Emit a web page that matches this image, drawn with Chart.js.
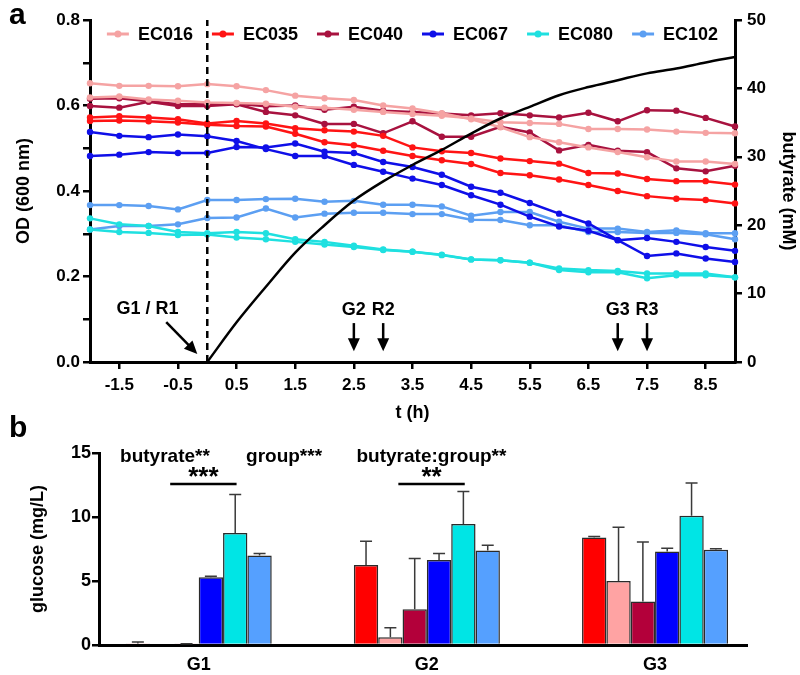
<!DOCTYPE html>
<html><head><meta charset="utf-8">
<script src="https://cdn.jsdelivr.net/npm/chart.js@4.4.0/dist/chart.umd.min.js"></script>
<style>
html,body{margin:0;padding:0;background:#fff;}
#wrap{position:relative;width:800px;height:675px;overflow:hidden;font-family:'Liberation Sans',Arial,sans-serif;}
#ca{position:absolute;left:0;top:0;}
#cb{position:absolute;left:0;top:430px;}
.pl{position:absolute;font-weight:bold;font-size:30px;line-height:30px;color:#000;}
</style></head><body>
<div id="wrap">
<canvas id="ca" width="800" height="430"></canvas>
<canvas id="cb" width="800" height="245"></canvas>
<div class="pl" style="left:9px;top:-1px">a</div>
<div class="pl" style="left:9px;top:412px">b</div>
</div>
<script>
// ---------------- DATA ----------------
const timeH = [-2,-1.5,-1,-0.5,0,0.5,1,1.5,2,2.5,3,3.5,4,4.5,5,5.5,6,6.5,7,7.5,8,8.5,9];
const xTickLabels = [-1.5,-0.5,0.5,1.5,2.5,3.5,4.5,5.5,6.5,7.5,8.5];
const strainNames = ['EC016','EC035','EC040','EC067','EC080','EC102'];

const od_EC016_r1 = [0.652,0.646,0.646,0.645,0.650,0.645,0.636,0.623,0.617,0.613,0.600,0.593,0.582,0.568,0.549,0.526,0.514,0.502,0.491,0.479,0.469,0.469,0.463];
const od_EC016_r2 = [0.619,0.621,0.614,0.611,0.607,0.606,0.604,0.597,0.595,0.590,0.585,0.580,0.576,0.570,0.561,0.559,0.557,0.545,0.545,0.544,0.539,0.536,0.535];
const od_EC035_r1 = [0.572,0.575,0.572,0.568,0.558,0.564,0.558,0.547,0.542,0.539,0.529,0.502,0.493,0.489,0.476,0.470,0.464,0.442,0.441,0.428,0.423,0.423,0.415];
const od_EC035_r2 = [0.564,0.565,0.563,0.560,0.555,0.552,0.551,0.534,0.514,0.507,0.494,0.482,0.472,0.463,0.442,0.437,0.427,0.414,0.400,0.388,0.382,0.379,0.371];
const od_EC040_r1 = [0.616,0.617,0.610,0.603,0.603,0.604,0.598,0.600,0.590,0.597,0.588,0.585,0.581,0.577,0.582,0.577,0.572,0.583,0.563,0.589,0.588,0.571,0.551];
const od_EC040_r2 = [0.599,0.595,0.609,0.599,0.599,0.603,0.585,0.577,0.557,0.557,0.535,0.563,0.527,0.527,0.550,0.537,0.495,0.508,0.494,0.491,0.453,0.446,0.459];
const od_EC067_r1 = [0.538,0.529,0.526,0.532,0.528,0.517,0.498,0.482,0.482,0.461,0.445,0.429,0.414,0.390,0.368,0.340,0.317,0.307,0.285,0.290,0.281,0.269,0.260];
const od_EC067_r2 = [0.482,0.485,0.491,0.489,0.489,0.503,0.502,0.511,0.492,0.489,0.468,0.456,0.438,0.410,0.396,0.372,0.347,0.324,0.285,0.248,0.254,0.242,0.234];
const od_EC080_r1 = [0.336,0.322,0.318,0.304,0.301,0.304,0.301,0.287,0.281,0.272,0.263,0.258,0.251,0.240,0.238,0.232,0.219,0.215,0.213,0.207,0.207,0.207,0.198];
const od_EC080_r2 = [0.310,0.304,0.302,0.297,0.298,0.291,0.287,0.281,0.275,0.269,0.262,0.258,0.250,0.240,0.238,0.232,0.215,0.210,0.210,0.196,0.203,0.203,0.198];
const od_EC102_r1 = [0.367,0.367,0.365,0.357,0.379,0.379,0.381,0.382,0.375,0.377,0.368,0.368,0.364,0.342,0.351,0.351,0.328,0.312,0.312,0.304,0.308,0.301,0.301];
const od_EC102_r2 = [0.310,0.318,0.318,0.322,0.337,0.338,0.359,0.338,0.347,0.349,0.349,0.346,0.346,0.333,0.332,0.320,0.320,0.304,0.304,0.302,0.302,0.299,0.287];
const butyrate_mM = [null,null,null,null,0,5.8,11.0,16.0,20.0,23.6,26.4,28.8,31.0,33.4,35.6,37.3,39.0,40.2,41.2,42.2,42.9,43.8,44.6];
const butyrateAddedAt = 0;
const sampleEvents = ['G2','R2','G3','R3'];
const sampleTimes = [2.5,3,7,7.5];

const glucoseGroups = ['G1','G2','G3'];
const barStrains = ['EC035','EC016','EC040','EC067','EC080','EC102'];
const glucose_EC035 = [0.12, 6.25, 8.4];
const glucose_EC016 = [0, 0.6, 5.0];
const glucose_EC040 = [0.05, 2.8, 3.4];
const glucose_EC067 = [5.3, 6.65, 7.3];
const glucose_EC080 = [8.75, 9.45, 10.1];
const glucose_EC102 = [7.0, 7.38, 7.45];
const glucoseErr_EC035 = [0.12, 1.85, 0.08];
const glucoseErr_EC016 = [0, 0.75, 4.2];
const glucoseErr_EC040 = [0.05, 3.95, 4.65];
const glucoseErr_EC067 = [0.08, 0.5, 0.25];
const glucoseErr_EC080 = [3.0, 2.55, 2.55];
const glucoseErr_EC102 = [0.15, 0.42, 0.07];

// ---------------- STYLE ----------------
const FONT = "'Liberation Sans', Arial, Helvetica, sans-serif";
Chart.defaults.font.family = FONT;
Chart.defaults.font.weight = 'bold';
Chart.defaults.color = '#000';
const LINE_COLORS = {EC016:'#f5a3a3', EC035:'#ff1414', EC040:'#a8123f', EC067:'#0f0fe8', EC080:'#1fe0e0', EC102:'#5c9ff2'};
const BAR_COLORS = {EC016:'#ffa3a3', EC035:'#ff0000', EC040:'#b3003a', EC067:'#0000ff', EC080:'#00e5e5', EC102:'#55a0ff'};

const odSeries = {
  EC016:[od_EC016_r1, od_EC016_r2], EC035:[od_EC035_r1, od_EC035_r2], EC040:[od_EC040_r1, od_EC040_r2],
  EC067:[od_EC067_r1, od_EC067_r2], EC080:[od_EC080_r1, od_EC080_r2], EC102:[od_EC102_r1, od_EC102_r2]
};
const glucoseVals = {EC035:glucose_EC035, EC016:glucose_EC016, EC040:glucose_EC040, EC067:glucose_EC067, EC080:glucose_EC080, EC102:glucose_EC102};
const glucoseErrs = {EC035:glucoseErr_EC035, EC016:glucoseErr_EC016, EC040:glucoseErr_EC040, EC067:glucoseErr_EC067, EC080:glucoseErr_EC080, EC102:glucoseErr_EC102};

function arrow(ctx, x1, y1, x2, y2, head, hw) {
  const a = Math.atan2(y2 - y1, x2 - x1);
  ctx.beginPath();
  ctx.moveTo(x1, y1);
  ctx.lineTo(x2 - head * 0.7 * Math.cos(a), y2 - head * 0.7 * Math.sin(a));
  ctx.stroke();
  ctx.beginPath();
  ctx.moveTo(x2, y2);
  ctx.lineTo(x2 - head * Math.cos(a) + hw * Math.sin(a), y2 - head * Math.sin(a) - hw * Math.cos(a));
  ctx.lineTo(x2 - head * Math.cos(a) - hw * Math.sin(a), y2 - head * Math.sin(a) + hw * Math.cos(a));
  ctx.closePath();
  ctx.fill();
}

// ---------------- PANEL A ----------------
const dsA = [];
dsA.push({
  label: 'butyrate', yAxisID: 'y2',
  data: timeH.map((t, i) => ({x: t, y: butyrate_mM[i]})),
  borderColor: '#000', borderWidth: 2.5, pointRadius: 0, cubicInterpolationMode: 'monotone', order: 0
});
dsA.push({
  label: 'addition', yAxisID: 'y',
  data: [{x: butyrateAddedAt, y: 0}, {x: butyrateAddedAt, y: 0.8}],
  borderColor: '#000', borderWidth: 2.5, borderDash: [7, 5], pointRadius: 0, order: 1
});
strainNames.forEach((s, si) => {
  odSeries[s].forEach((arr, r) => {
    dsA.push({
      label: s, yAxisID: 'y',
      data: timeH.map((t, i) => ({x: t, y: arr[i]})),
      borderColor: LINE_COLORS[s], backgroundColor: LINE_COLORS[s],
      borderWidth: 2.5, pointRadius: 3.2, pointBorderWidth: 0,
      pointBackgroundColor: LINE_COLORS[s], tension: 0, clip: false,
      order: 2 + si * 2 + r
    });
  });
});

const panelAPlugin = {
  id: 'panelA',
  afterDatasetsDraw(chart) {
    const {ctx, chartArea: ca} = chart;
    const xs = chart.scales.x, ys = chart.scales.y;
    ctx.save();
    // legend
    ctx.font = 'bold 18px ' + FONT;
    const lineW = 22, gap = 9, spacing = 19;
    const widths = strainNames.map(n => lineW + gap + ctx.measureText(n).width);
    const total = widths.reduce((a, b) => a + b, 0) + spacing * (strainNames.length - 1);
    let lx = (ca.left + ca.right) / 2 - total / 2;
    const ly = ca.top + 14;
    strainNames.forEach((n, i) => {
      ctx.strokeStyle = LINE_COLORS[n]; ctx.fillStyle = LINE_COLORS[n]; ctx.lineWidth = 3;
      ctx.beginPath(); ctx.moveTo(lx, ly); ctx.lineTo(lx + lineW, ly); ctx.stroke();
      ctx.beginPath(); ctx.arc(lx + lineW / 2, ly, 3.5, 0, Math.PI * 2); ctx.fill();
      ctx.fillStyle = '#000'; ctx.textAlign = 'left'; ctx.textBaseline = 'middle';
      ctx.fillText(n, lx + lineW + gap, ly + 1);
      lx += widths[i] + spacing;
    });
    // arrows and labels
    ctx.strokeStyle = '#000'; ctx.fillStyle = '#000'; ctx.lineWidth = 2.5;
    ctx.textAlign = 'center'; ctx.textBaseline = 'middle';
    ctx.font = 'bold 18px ' + FONT;
    ctx.fillText('G1 / R1', xs.getPixelForValue(-1.02), ys.getPixelForValue(0.124));
    arrow(ctx, xs.getPixelForValue(-0.70), ys.getPixelForValue(0.093),
               xs.getPixelForValue(-0.17), ys.getPixelForValue(0.019), 13, 6);
    sampleEvents.forEach((ev, i) => {
      const px = xs.getPixelForValue(sampleTimes[i]);
      ctx.fillText(ev, px, ys.getPixelForValue(0.122));
      arrow(ctx, px, ys.getPixelForValue(0.091), px, ys.getPixelForValue(0.025), 13, 6);
    });
    ctx.restore();
  }
};

new Chart(document.getElementById('ca'), {
  type: 'line',
  data: {datasets: dsA},
  options: {
    responsive: false, animation: false,
    layout: {padding: {top: 20, left: 0, right: 0, bottom: 0}},
    plugins: {legend: {display: false}, tooltip: {enabled: false}},
    scales: {
      x: {
        type: 'linear', min: -2, max: 9,
        afterBuildTicks: s => { s.ticks = xTickLabels.map(v => ({value: v})); },
        afterFit: s => { s.height = 68; },
        ticks: {font: {size: 17}, padding: 6, autoSkip: false, maxRotation: 0, callback: v => String(v)},
        grid: {drawOnChartArea: false, drawTicks: true, tickLength: 7, color: '#000', lineWidth: 2.5},
        border: {color: '#000', width: 3},
        title: {display: true, text: 't (h)', font: {size: 18}, padding: {top: 4, bottom: 6}}
      },
      y: {
        position: 'left', min: 0, max: 0.8,
        afterFit: s => { s.width = 90; },
        ticks: {stepSize: 0.1, autoSkip: false, font: {size: 17}, padding: 3,
          callback: v => { const k = Math.round(v * 10); return k % 2 === 0 ? (k / 10).toFixed(1) : ''; }},
        grid: {drawOnChartArea: false, drawTicks: true, tickLength: 7, color: '#000', lineWidth: 2.5},
        border: {color: '#000', width: 3},
        title: {display: true, text: 'OD (600 nm)', font: {size: 18}, padding: {top: 13, bottom: 0}}
      },
      y2: {
        position: 'right', min: 0, max: 50,
        afterFit: s => { s.width = 65; },
        ticks: {stepSize: 10, autoSkip: false, font: {size: 17}, padding: 5},
        grid: {drawOnChartArea: false, drawTicks: true, tickLength: 7, color: '#000', lineWidth: 2.5},
        border: {color: '#000', width: 3},
        title: {display: true, text: 'butyrate (mM)', font: {size: 18}, padding: {top: 1, bottom: 0}}
      }
    }
  },
  plugins: [panelAPlugin]
});

// ---------------- PANEL B ----------------
const dsB = barStrains.map(s => ({
  label: s,
  data: glucoseGroups.map((g, i) => ({x: i, y: glucoseVals[s][i]})),
  backgroundColor: BAR_COLORS[s], borderColor: '#2a2a2a', borderWidth: 1.5,
  categoryPercentage: 0.64, barPercentage: 1
}));

const bAnnotations = {
  headers: [{text: 'butyrate**', x: -0.148}, {text: 'group***', x: 0.374}, {text: 'butyrate:group**', x: 1.02}],
  headerLevel: 14.3,
  brackets: [{group: 0, text: '***'}, {group: 1, text: '**'}],
  bracketFrom: -0.125, bracketTo: 0.166, bracketLevel: 12.57, starLevel: 13.5
};

const panelBPlugin = {
  id: 'panelB',
  afterDatasetsDraw(chart) {
    const {ctx} = chart;
    const xs = chart.scales.x, ys = chart.scales.y;
    ctx.save();
    // error bars
    ctx.strokeStyle = '#3a3a3a'; ctx.lineWidth = 1.5;
    chart.data.datasets.forEach((ds, di) => {
      const meta = chart.getDatasetMeta(di);
      const errs = glucoseErrs[ds.label];
      meta.data.forEach((bar, i) => {
        const e = errs[i];
        if (!(e > 0)) return;
        const yt = ys.getPixelForValue(ds.data[i].y + e);
        ctx.beginPath();
        ctx.moveTo(bar.x, bar.y); ctx.lineTo(bar.x, yt);
        ctx.moveTo(bar.x - 6, yt); ctx.lineTo(bar.x + 6, yt);
        ctx.stroke();
      });
    });
    // headers
    ctx.fillStyle = '#000'; ctx.textAlign = 'center'; ctx.textBaseline = 'alphabetic';
    ctx.font = 'bold 19px ' + FONT;
    bAnnotations.headers.forEach(h => {
      ctx.fillText(h.text, xs.getPixelForValue(h.x), ys.getPixelForValue(bAnnotations.headerLevel));
    });
    // brackets
    ctx.strokeStyle = '#000'; ctx.lineWidth = 2.5;
    bAnnotations.brackets.forEach(b => {
      const yb = ys.getPixelForValue(bAnnotations.bracketLevel);
      const x1 = xs.getPixelForValue(b.group + bAnnotations.bracketFrom);
      const x2 = xs.getPixelForValue(b.group + bAnnotations.bracketTo);
      ctx.beginPath(); ctx.moveTo(x1, yb); ctx.lineTo(x2, yb); ctx.stroke();
      ctx.font = 'bold 26px ' + FONT;
      const m = ctx.measureText(b.text);
      const cy = ys.getPixelForValue(bAnnotations.starLevel);
      const base = cy + (m.actualBoundingBoxAscent - m.actualBoundingBoxDescent) / 2;
      ctx.fillText(b.text, (x1 + x2) / 2, base);
    });
    ctx.restore();
  }
};

new Chart(document.getElementById('cb'), {
  type: 'bar',
  data: {datasets: dsB},
  options: {
    responsive: false, animation: false,
    layout: {padding: {top: 23, left: 0, right: 53, bottom: 0}},
    plugins: {legend: {display: false}, tooltip: {enabled: false}},
    scales: {
      x: {
        type: 'linear', min: -0.437, max: 2.403, offset: false,
        afterBuildTicks: s => { s.ticks = glucoseGroups.map((g, i) => ({value: i})); },
        afterFit: s => { s.height = 30; },
        ticks: {font: {size: 18}, padding: 9, autoSkip: false, maxRotation: 0, callback: v => glucoseGroups[v]},
        grid: {display: false, drawTicks: false},
        border: {display: true, color: '#000', width: 3}
      },
      y: {
        min: 0, max: 15,
        afterFit: s => { s.width = 99; },
        ticks: {stepSize: 5, font: {size: 18}, padding: 1},
        grid: {drawOnChartArea: false, drawTicks: true, tickLength: 7, color: '#000', lineWidth: 2.5},
        border: {color: '#000', width: 3},
        title: {display: true, text: 'glucose (mg/L)', font: {size: 18}, padding: {top: 27, bottom: 0}}
      }
    }
  },
  plugins: [panelBPlugin]
});
</script>
</body></html>
